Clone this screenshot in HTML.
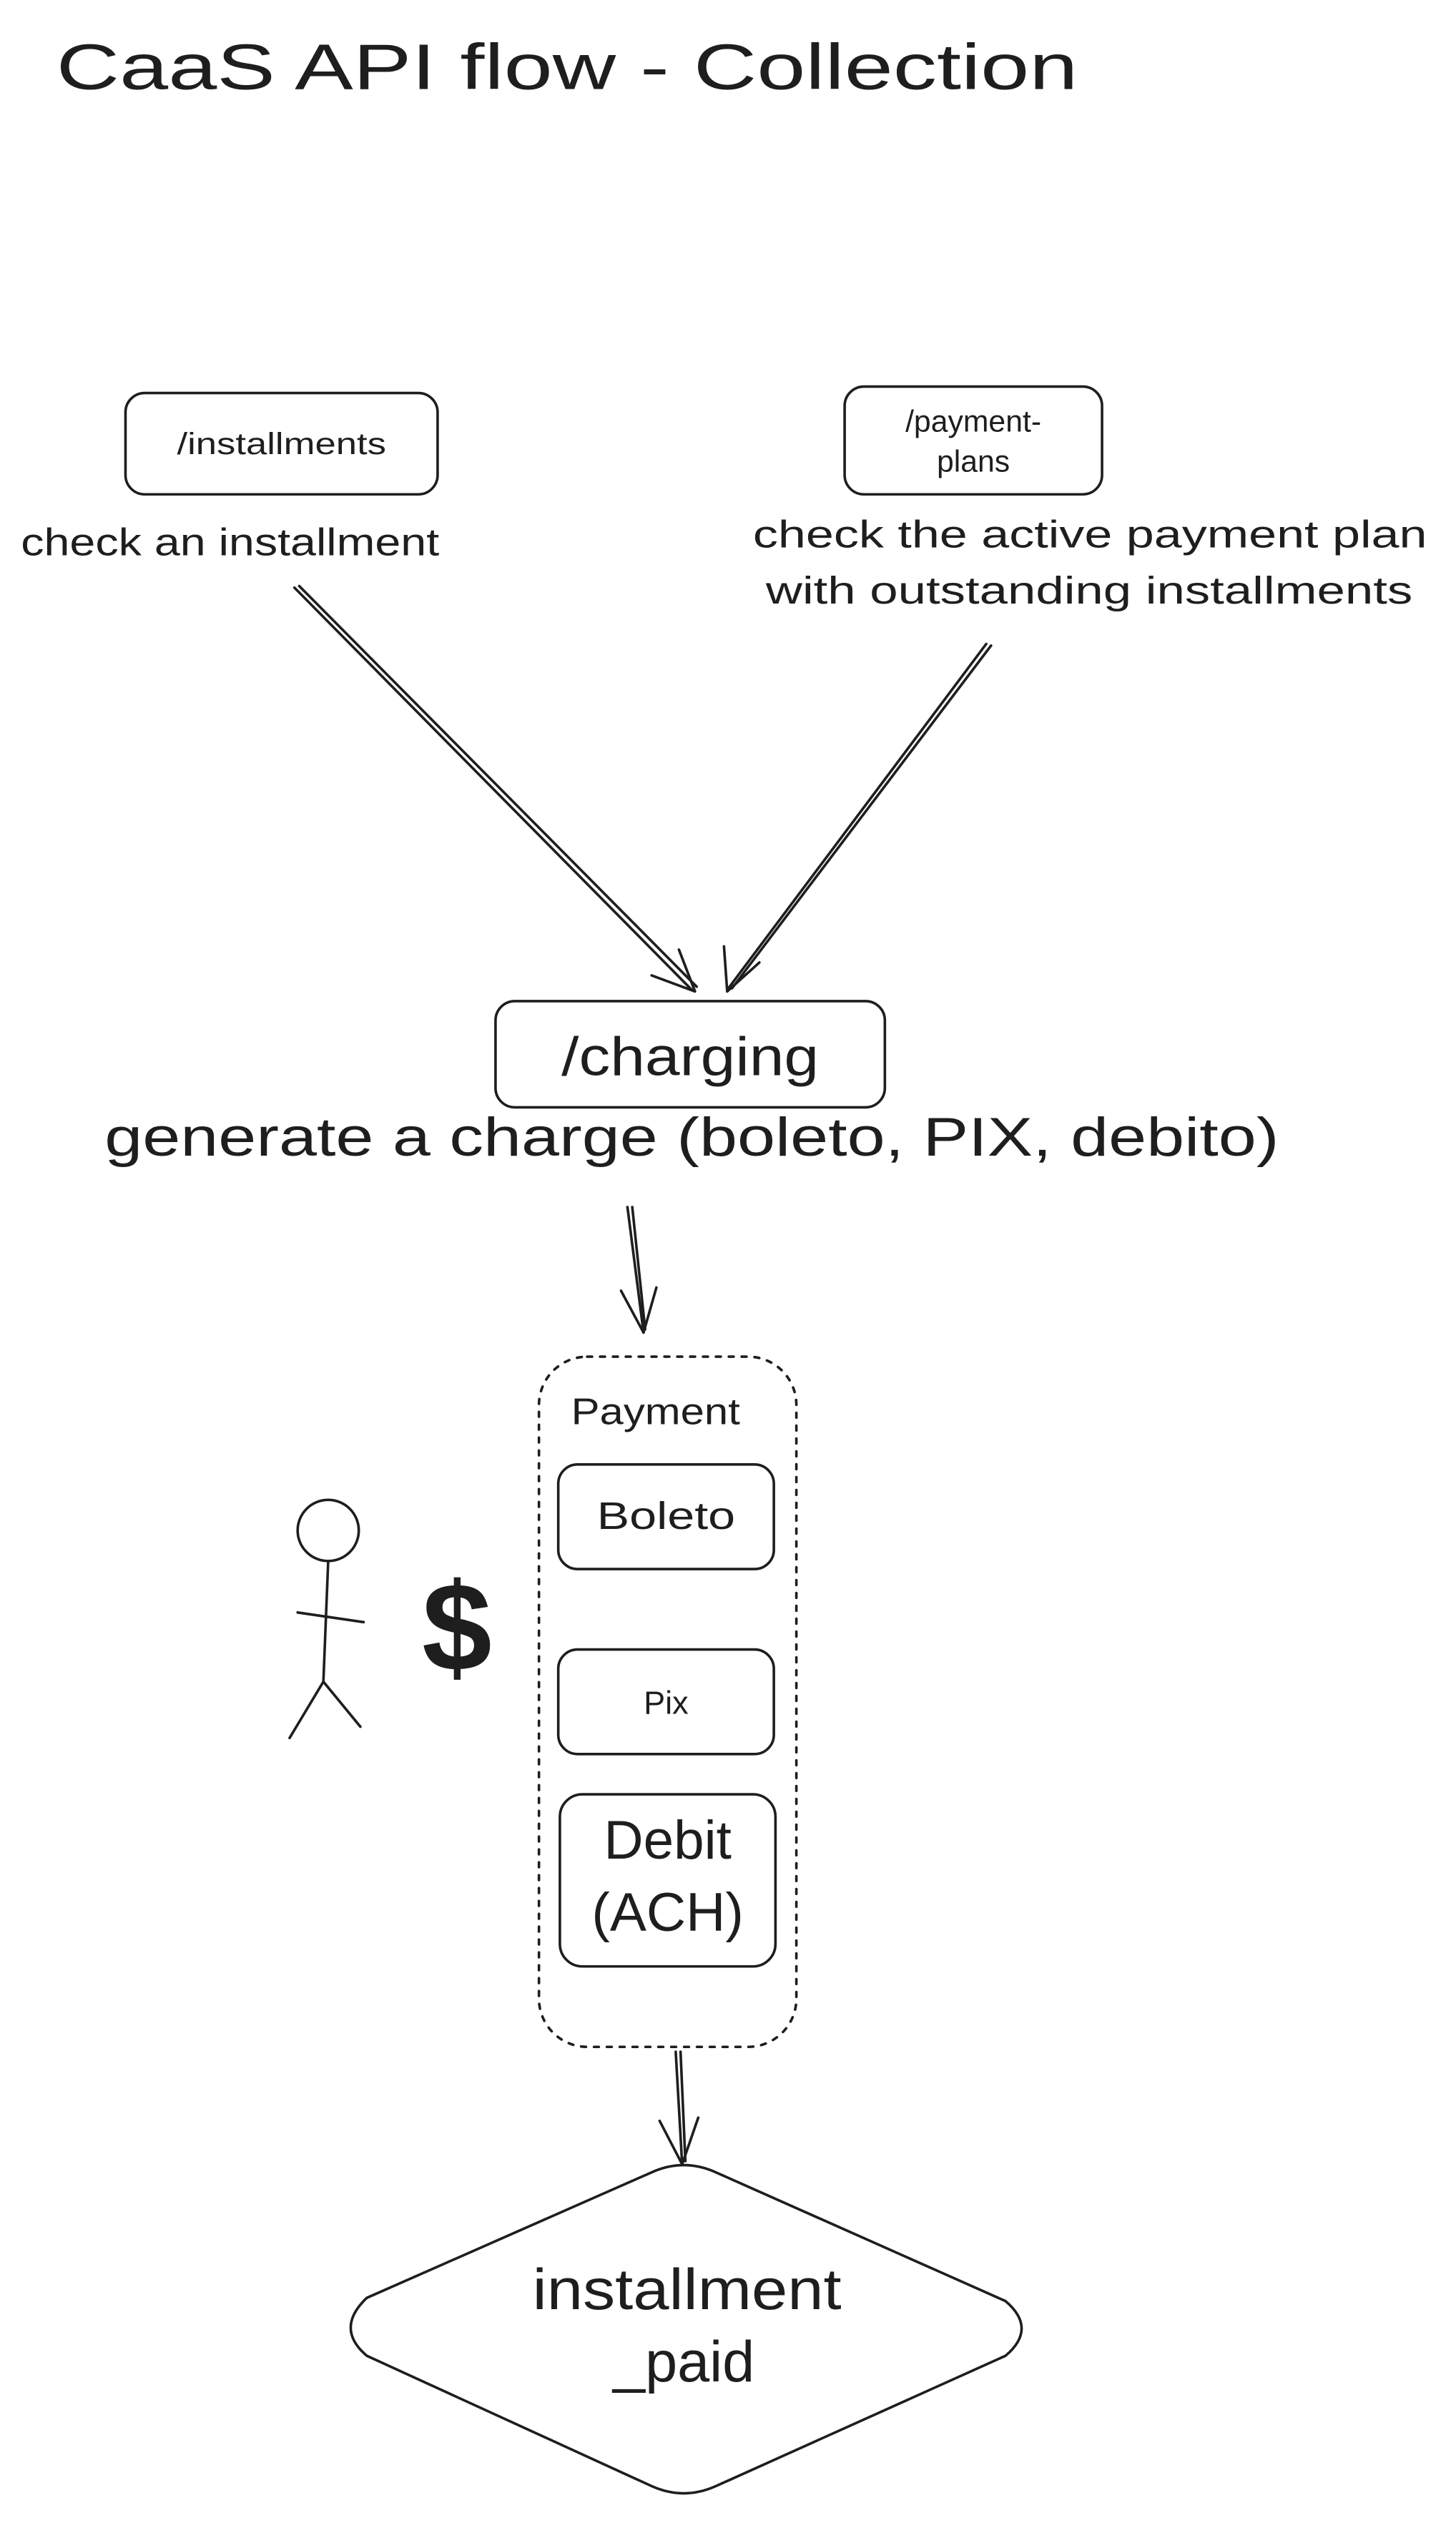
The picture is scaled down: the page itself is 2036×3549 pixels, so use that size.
<!DOCTYPE html>
<html><head><meta charset="utf-8"><style>
html,body{margin:0;padding:0;background:#fff;}
svg{display:block}
text{font-family:"Liberation Sans",sans-serif;fill:#1e1e1e}
</style></head><body>
<svg width="2036" height="3549" viewBox="0 0 905 1577" xmlns="http://www.w3.org/2000/svg">
<rect width="905" height="1577" fill="#fff"/>
<g stroke="#1e1e1e" fill="none" stroke-width="1.6" stroke-linecap="round" stroke-linejoin="round">
<rect x="78" y="244" width="194" height="63" rx="12"/>
<rect x="525" y="240" width="160" height="67" rx="12"/>
<path d="M183 365 L430 615 M186 364 L433 613"/>
<path d="M405 606 L432 616 L422 590"/>
<path d="M613 400 L452 615 M616 401 L455 614"/>
<path d="M450 588 L452 616 L472 598"/>
<rect x="308" y="622" width="242" height="66" rx="12"/>
<path d="M390 750 L400 828 M393 750 L401 826"/>
<path d="M386 802 L400 828 L408 800"/>
<rect x="335" y="843" width="160" height="429" rx="30" stroke-dasharray="3 5"/>
<rect x="347" y="910" width="134" height="65" rx="12"/>
<rect x="347" y="1025" width="134" height="65" rx="12"/>
<rect x="348" y="1115" width="134" height="107" rx="14"/>
<circle cx="204" cy="951" r="19"/>
<path d="M204 970 L201 1045 M185 1002 L226 1008 M201 1045 L180 1080 M201 1045 L224 1073"/>
<path d="M420 1275 L424 1345 M423 1275 L426 1343"/>
<path d="M410 1318 L424 1345 L434 1316"/>
<path d="M228 1428 Q208 1447 228 1464 L405 1545 Q425 1554 445 1545 L625 1464 Q645 1447 625 1430 L445 1350 Q425 1341 405 1350 Z"/>
</g>
<text x="35" y="55" font-size="40" textLength="635" lengthAdjust="spacingAndGlyphs">CaaS API flow - Collection</text>
<text x="175" y="282" font-size="19" text-anchor="middle" textLength="130" lengthAdjust="spacingAndGlyphs">/installments</text>
<text x="605" y="268" font-size="19" text-anchor="middle">/payment-</text>
<text x="605" y="293" font-size="19" text-anchor="middle">plans</text>
<text x="13" y="345" font-size="24" textLength="260" lengthAdjust="spacingAndGlyphs">check an installment</text>
<text x="468" y="340" font-size="24" textLength="419" lengthAdjust="spacingAndGlyphs">check the active payment plan</text>
<text x="476" y="375" font-size="24" textLength="402" lengthAdjust="spacingAndGlyphs">with outstanding installments</text>
<text x="349" y="668" font-size="34" textLength="160" lengthAdjust="spacingAndGlyphs">/charging</text>
<text x="65" y="718" font-size="34" textLength="730" lengthAdjust="spacingAndGlyphs">generate a charge (boleto, PIX, debito)</text>
<text x="355" y="885" font-size="23" textLength="105" lengthAdjust="spacingAndGlyphs">Payment</text>
<text x="371" y="950" font-size="24" textLength="86" lengthAdjust="spacingAndGlyphs">Boleto</text>
<text x="414" y="1065" font-size="20" text-anchor="middle">Pix</text>
<text x="415" y="1155" font-size="34" text-anchor="middle">Debit</text>
<text x="415" y="1200" font-size="34" text-anchor="middle">(ACH)</text>
<text x="284" y="1038" font-size="78" font-weight="bold" text-anchor="middle">$</text>
<text x="331" y="1435" font-size="36" textLength="192" lengthAdjust="spacingAndGlyphs">installment</text>
<text x="425" y="1480" font-size="36" text-anchor="middle">_paid</text>
</svg>
</body></html>
